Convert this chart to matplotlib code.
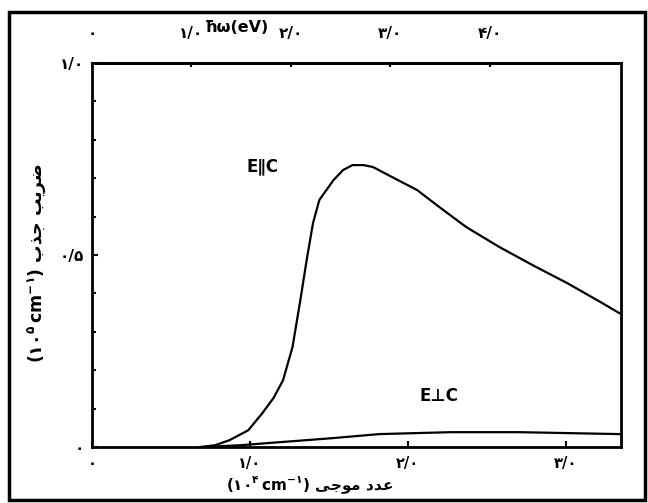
"""
Absorption coefficient vs wavenumber for E||C and E⊥C (scanned Persian figure).
Output: out.png
"""

import matplotlib
matplotlib.use("Agg")
import matplotlib.pyplot as plt
import matplotlib.ticker as mticker
from matplotlib.patches import Rectangle

# ----- data -----
wavenum_par = [0.68, 0.78, 0.87, 0.99, 1.08, 1.15, 1.21, 1.27, 1.32, 1.36,
               1.40, 1.44, 1.49, 1.53, 1.59, 1.65, 1.72, 1.78, 1.84, 2.06,
               2.20, 2.37, 2.58, 2.79, 3.01, 3.22, 3.34]
alpha_par   = [0.000, 0.005, 0.018, 0.044, 0.089, 0.128, 0.174, 0.260, 0.383, 0.487,
               0.583, 0.643, 0.672, 0.695, 0.721, 0.734, 0.734, 0.729, 0.716, 0.669,
               0.625, 0.573, 0.521, 0.474, 0.427, 0.378, 0.349]

wavenum_perp = [0.68, 0.94, 1.19, 1.51, 1.82, 2.27, 2.71, 3.09, 3.34]
alpha_perp   = [0.000, 0.005, 0.013, 0.023, 0.034, 0.039, 0.039, 0.036, 0.034]

x_ticks       = [0, 1, 2, 3]
x_ticklabels  = ["۰", "۱/۰", "۲/۰", "۳/۰"]
ev_ticks      = [0, 1, 2, 3, 4]
ev_ticklabels = ["۰", "۱/۰", "۲/۰", "۳/۰", "۴/۰"]
y_ticks       = [0, 0.5, 1.0]
y_ticklabels  = ["۰", "۰/۵", "۱/۰"]
ev_per_unit   = 0.63   # spacing of the eV scale as drawn on the scan

# Persian words, written in visual order with presentation forms
xlabel_fa = "\uFEF0\uFE9F\uFEEE\uFEE3 \uFEA9\uFEAA\uFECB"          # عدد موجی
ylabel_fa = "\uFE8F\uFEAC\uFE9F \uFE90\uFEF3\uFEAE\uFEBF"          # ضریب جذب

# ----- styling -----
plt.rcParams.update({
    "font.family": ["DejaVu Sans"],
    "font.weight": "bold",
    "mathtext.fontset": "dejavusans",
    "axes.linewidth": 2.0,
})

fig = plt.figure(figsize=(6.48, 5.03), dpi=100)
ax = fig.add_axes([0.142, 0.111, 0.816, 0.764])

ax.plot(wavenum_par, alpha_par, color="black", linewidth=1.6)
ax.plot(wavenum_perp, alpha_perp, color="black", linewidth=1.6)

ax.text(1.08, 0.73, "E\u2225C", fontsize=12, fontweight="bold", ha="center", va="center")
ax.text(2.20, 0.133, "E\u22a5C", fontsize=12, fontweight="bold", ha="center", va="center")

ax.set_xlim(0, 3.35)
ax.set_ylim(0, 1.0)

ax.set_xticks(x_ticks)
ax.set_xticklabels(x_ticklabels, fontsize=10.5, fontweight="bold")
ax.set_yticks(y_ticks)
ax.set_yticklabels(y_ticklabels, fontsize=11, fontweight="bold")
ax.yaxis.set_minor_locator(mticker.MultipleLocator(0.1))
ax.tick_params(axis="both", which="both", direction="in", width=1.5)
ax.tick_params(axis="x", which="major", length=4, pad=6)
ax.tick_params(axis="y", which="major", length=4, pad=6)
ax.tick_params(axis="y", which="minor", length=3)

top = ax.secondary_xaxis("top", functions=(lambda x: x / ev_per_unit,
                                           lambda e: e * ev_per_unit))
top.set_xticks(ev_ticks)
top.set_xticklabels(ev_ticklabels, fontsize=11, fontweight="bold")
top.tick_params(direction="in", length=3, width=1.5, pad=16)

fig.text(237 / 648, 1 - 28 / 503, "\u0127\u03c9(eV)", fontsize=11.5,
         fontweight="bold", ha="center", va="center")

ax.set_xlabel(r"$(\mathbf{۱۰}^{\mathbf{۴}}\,\mathbf{cm}^{-\mathbf{۱}})$ " + xlabel_fa,
              fontsize=11, fontweight="bold")
ax.xaxis.set_label_coords((310 - 92) / 529, -(474 - 447) / 384)
ax.set_ylabel(r"$(\mathbf{۱۰}^{\mathbf{۵}}\,\mathbf{cm}^{-\mathbf{۱}})$ " + ylabel_fa,
              fontsize=12.5, fontweight="bold")
ax.yaxis.set_label_coords(-(92 - 48) / 529, (447 - 263) / 384)

# outer frame of the scanned page
fig.patches.append(Rectangle((9 / 648, 3 / 503), 636 / 648, 488 / 503,
                             transform=fig.transFigure, fill=False,
                             edgecolor="black", linewidth=2.5))

fig.savefig("out.png", dpi=100)
